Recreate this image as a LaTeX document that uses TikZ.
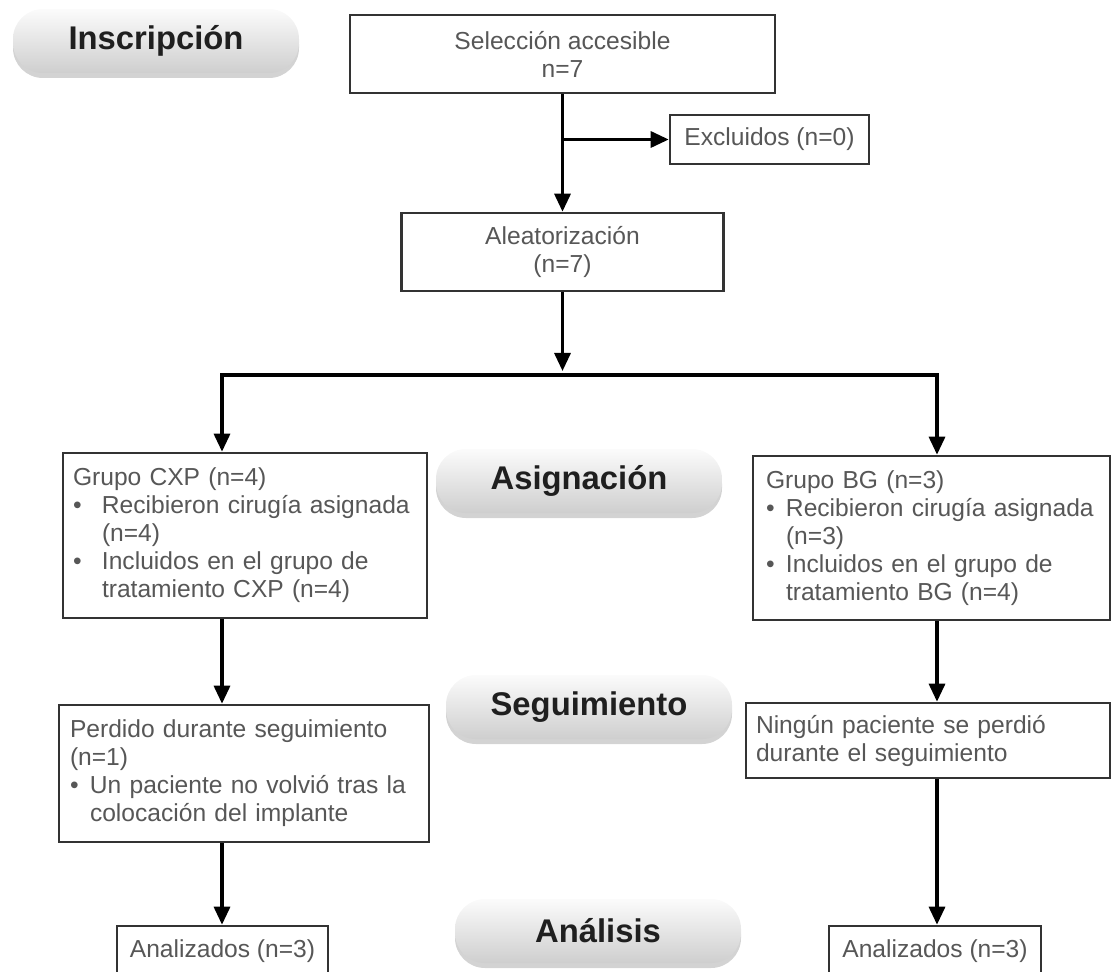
\documentclass[tikz,border=0pt]{standalone}
\usepackage{fontspec}
\setmainfont{Liberation Sans}
\usepackage{tikz}
\usetikzlibrary{arrows.meta,positioning,calc,shadows}
\usepackage{xcolor}

\newcommand{\bul}[1][10pt]{\makebox[#1][l]{\textbullet}}
\newcommand{\sangria}[1][10pt]{\hspace*{#1}}

\begin{document}
\begin{tikzpicture}[x=0.5pt, y=-0.5pt,
  caja/.style={draw=black!80, line width=1.3pt, fill=white, text=black!66,
    font=\fontsize{12.3}{14}\selectfont, align=center, inner sep=0pt},
  izq/.style={align=left, inner xsep=5pt},
  etapa/.style={rounded corners=15pt, top color=gray!3, bottom color=gray!38,
    drop shadow={shadow xshift=0pt, shadow yshift=-2.5pt, opacity=0.35},
    minimum width=143pt, minimum height=32pt,
    font=\fontsize{16.4}{18}\selectfont\bfseries, text=black!88},
  arr/.style={-{Triangle[length=9pt,width=8pt]}, line width=1.6pt}
]
\useasboundingbox (0,0) rectangle (1112,972);

% etapas
\node[etapa] (insc) at (156,41) {Inscripción};
\node[etapa] (asig) at (579,481) {Asignación};
\node[etapa] (segu) at (589,707) {Seguimiento};
\node[etapa] (anal) at (598,931) {Análisis};

% cajas
\node[caja, minimum width=212.5pt, minimum height=39pt] (sel) at (562.5,54)
  {Selección accesible\\n=7};
\node[caja, minimum width=99.5pt, minimum height=24.5pt] (excl) at (769.5,139.5)
  {Excluidos (n=0)};
\node[caja, minimum width=161pt, minimum height=39pt] (alea) at (562.5,252)
  {Aleatorización\\(n=7)};
\node[caja, izq, text width=172pt, minimum height=82.5pt] (cxp) at (245,535.5)
  {Grupo CXP (n=4)\\
   \bul[14.5pt]Recibieron cirugía asignada\\
   \sangria[14.5pt](n=4)\\
   \bul[14.5pt]Incluidos en el grupo de\\
   \sangria[14.5pt]tratamiento CXP (n=4)};
\node[caja, izq, inner xsep=6.5pt, text width=165.5pt, minimum height=82pt] (bg) at (931.5,538)
  {Grupo BG (n=3)\\
   \bul Recibieron cirugía asignada\\
   \sangria(n=3)\\
   \bul Incluidos en el grupo de\\
   \sangria tratamiento BG (n=4)};
\node[caja, izq, inner xsep=5.5pt, text width=174pt, minimum height=68.5pt] (perd) at (244,773.5)
  {Perdido durante seguimiento\\
   (n=1)\\
   \bul Un paciente no volvió tras la\\
   \sangria colocación del implante};
\node[caja, izq, text width=172pt, minimum height=37.5pt] (ning) at (928,740.5)
  {Ningún paciente se perdió\\durante el seguimiento};
\node[caja, minimum width=105.5pt, minimum height=25pt] (anaL) at (222.5,951)
  {Analizados (n=3)};
\node[caja, minimum width=106pt, minimum height=25pt] (anaR) at (935,951)
  {Analizados (n=3)};

% conectores
\coordinate (reparto) at (562.5,371);
\coordinate (ramaL) at (222,375);
\coordinate (ramaR) at (937,375);

\draw[arr] (sel.south) -- (alea.north);
\draw[arr] (sel.south |- excl.west) -- (excl.west);
\draw[arr] (alea.south) -- (reparto);
\draw[arr, {Triangle[length=9pt,width=8pt]}-{Triangle[length=9pt,width=8pt]}]
  (ramaL |- cxp.north) -- (ramaL) -- (ramaR) -- (ramaR |- bg.north);
\draw[arr] (cxp.south -| ramaL) -- (perd.north -| ramaL);
\draw[arr] (perd.south -| ramaL) -- (ramaL |- anaL.north);
\draw[arr] (bg.south -| ramaR) -- (ning.north -| ramaR);
\draw[arr] (ning.south -| ramaR) -- (ramaR |- anaR.north);
\end{tikzpicture}
\end{document}
